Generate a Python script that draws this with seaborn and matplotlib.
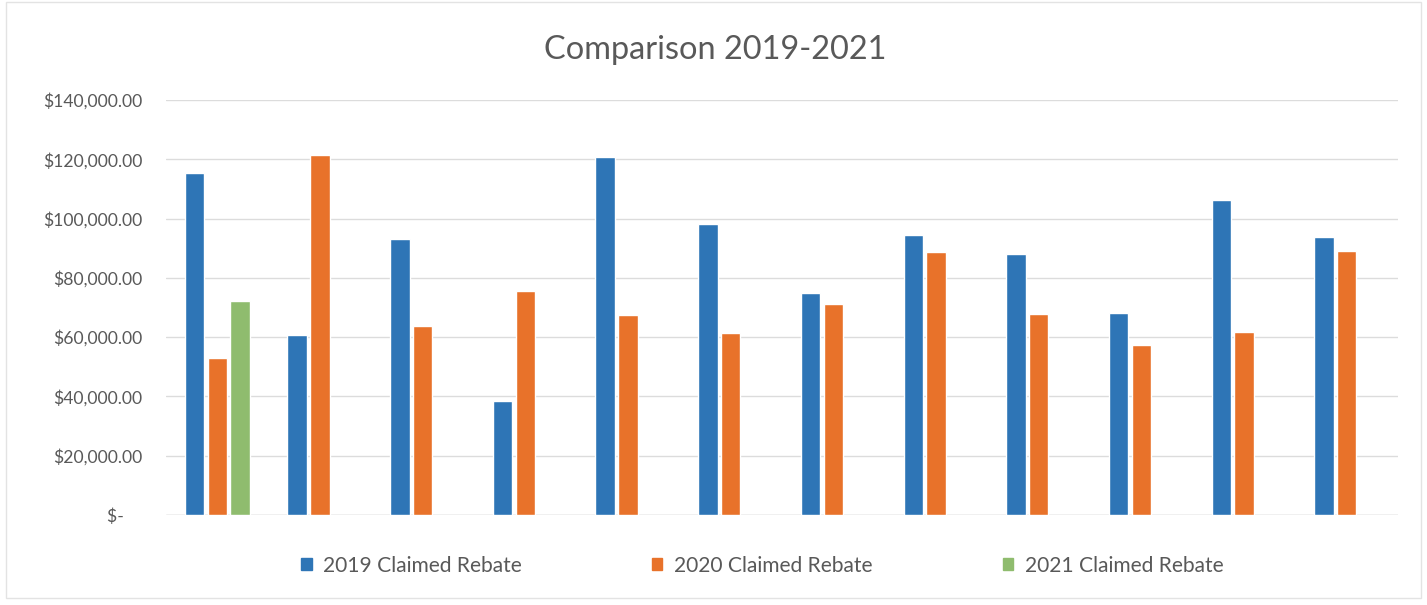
import numpy as np
import pandas as pd
import matplotlib
matplotlib.use("Agg")
import matplotlib.pyplot as plt
import seaborn as sns
from matplotlib.ticker import FuncFormatter, MultipleLocator

# Claimed rebate per account, three reporting years
groups = [f"G{i}" for i in range(1, 13)]
rebate_2019 = [115400, 60700, 93000, 38300, 120900, 98300, 75000, 94500, 88200, 68000, 106300, 93800]
rebate_2020 = [53000, 121300, 63600, 75400, 67400, 61300, 71200, 88800, 67900, 57200, 61600, 89200]
rebate_2021 = [72100] + [np.nan] * 11
series_names = ["2019 Claimed Rebate", "2020 Claimed Rebate", "2021 Claimed Rebate"]
series_colors = ["#2E75B6", "#E8722A", "#8FBC6E"]

df = pd.DataFrame({
    "group": groups * 3,
    "series": np.repeat(series_names, len(groups)),
    "value": rebate_2019 + rebate_2020 + rebate_2021,
})

sns.set_theme(style="white")
plt.rcParams["font.family"] = ["Lato", "DejaVu Sans"]
text_color = "#595959"

fig = plt.figure(figsize=(14.27, 6.05), dpi=100)
ax = fig.add_axes([0.1163, 0.1488, 0.8634, 0.6859])

sns.barplot(data=df, x="group", y="value", hue="series", hue_order=series_names,
            palette=series_colors, saturation=1, width=0.664, gap=0.14,
            errorbar=None, ax=ax)

ax.set_ylim(0, 140000)
ax.yaxis.set_major_locator(MultipleLocator(20000))

def money(v, _):
    if abs(v) < 1e-9:
        return "$-    "
    return f"${v:,.2f}"

ax.yaxis.set_major_formatter(FuncFormatter(money))
ax.grid(axis="y", color="#dcdcdc", linewidth=1)
ax.set_axisbelow(True)
for s in ax.spines.values():
    s.set_visible(False)
ax.axhline(0, color="#d0d0d0", linewidth=1, zorder=0.5)
ax.tick_params(axis="y", length=0, pad=17, labelsize=12.6, labelcolor=text_color)
ax.set_xticks([])
ax.set_xlabel("")
ax.set_ylabel("")

fig.text(0.501, 0.918, "Comparison 2019-2021", ha="center", va="center",
         fontsize=23.4, color=text_color)

ax.get_legend().remove()
handles = [plt.Rectangle((0, 0), 1, 1, color=c) for c in series_colors]
fig.legend(handles, series_names, loc="center", bbox_to_anchor=(0.5343, 0.065),
           ncol=3, frameon=False, fontsize=15.1, labelcolor=text_color,
           handlelength=0.48, handleheight=0.48, handletextpad=0.57,
           columnspacing=6.2)

fig.patches.append(plt.Rectangle((0.004, 0.012), 0.992, 0.985, transform=fig.transFigure,
                                 fill=False, edgecolor="#e3e3e3", linewidth=1))

fig.savefig("out.png", dpi=100)
